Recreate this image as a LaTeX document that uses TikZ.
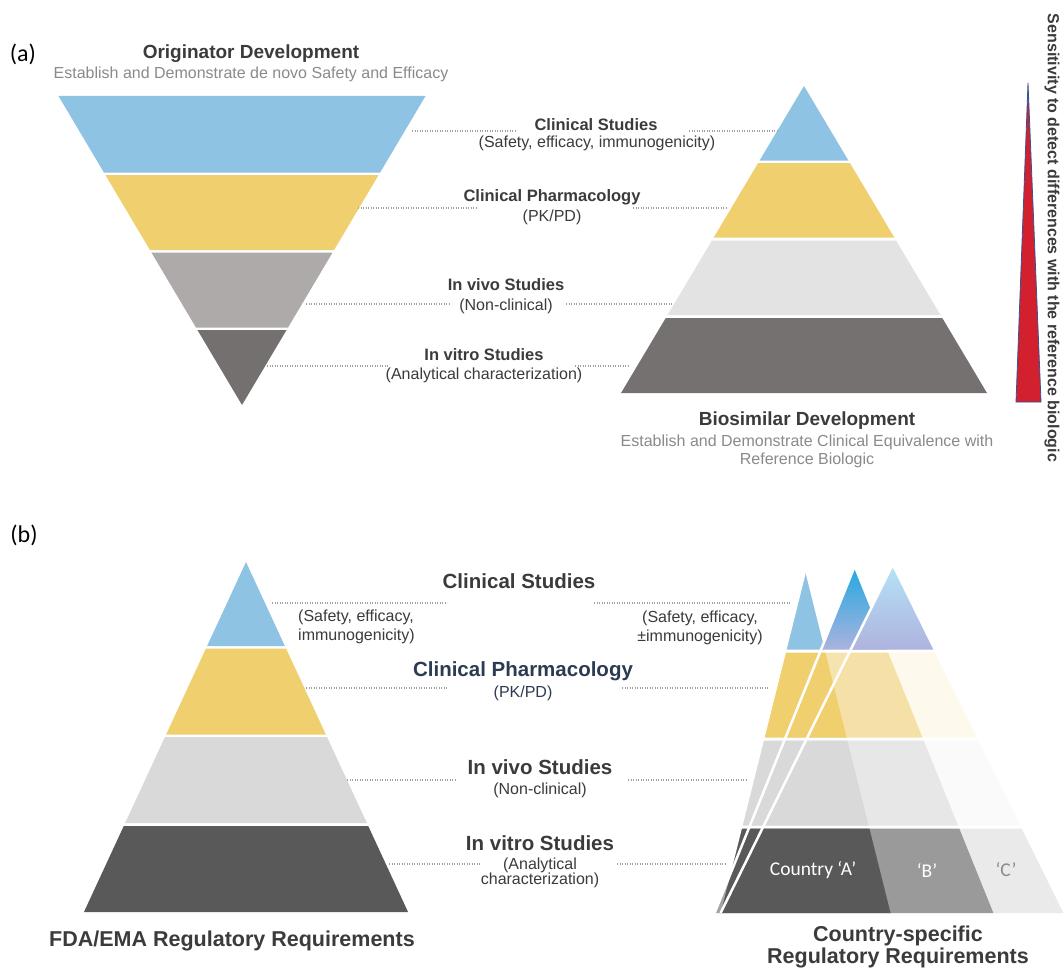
\documentclass[tikz,border=0pt]{standalone}
\usepackage{fontspec}
\setmainfont{Liberation Sans}
\newfontfamily\calibrifont{Carlito}
\usepackage{tikz}

\definecolor{bandblue}{HTML}{8FC3E4}
\definecolor{bandyellow}{HTML}{F0CF6F}
\definecolor{funnelgray}{HTML}{AEAAAA}
\definecolor{funneldark}{HTML}{757070}
\definecolor{biogray}{HTML}{E3E3E3}
\definecolor{biodark}{HTML}{767171}
\definecolor{reggray}{HTML}{D9D9D9}
\definecolor{regdark}{HTML}{595959}
\definecolor{peakBtop}{HTML}{25A8E0}
\definecolor{peakBbot}{HTML}{AAB3DE}
\definecolor{peakCtop}{HTML}{B5E2F7}
\definecolor{peakCbot}{HTML}{AEB3DF}
\definecolor{headtext}{HTML}{3B3B3B}
\definecolor{subtext}{HTML}{8A8A8A}
\definecolor{navytext}{HTML}{2D3B52}
\definecolor{dotgray}{HTML}{A0A0A0}
\definecolor{wedgered}{HTML}{D2202F}
\definecolor{wedgeedge}{HTML}{2F5597}

\tikzset{
    heading/.style={font=\bfseries\fontsize{16.5}{19}\selectfont, text=headtext, inner sep=0pt},
    bigheading/.style={font=\bfseries\fontsize{20.5}{23}\selectfont, text=headtext, inner sep=0pt},
    title/.style={font=\bfseries\fontsize{19}{22}\selectfont, text=headtext, inner sep=0pt},
    bottomtitle/.style={font=\bfseries\fontsize{21.5}{22}\selectfont, text=headtext, inner sep=0pt, align=center},
    subtitle/.style={font=\fontsize{16}{18}\selectfont, text=subtext, inner sep=0pt, align=center},
    detail/.style={font=\fontsize{16}{19}\selectfont, text=headtext, inner sep=0pt, align=center},
    panel/.style={font=\calibrifont\fontsize{24}{28}\selectfont, text=black, inner sep=0pt},
    countrytext/.style={font=\calibrifont\fontsize{19.5}{21}\selectfont, inner sep=0pt},
    dotline/.style={dotgray, line width=1.2pt, dash pattern=on 1.2pt off 1.3pt}
}

\begin{document}
\begin{tikzpicture}[x=1pt,y=-1pt]
    \fill[white] (0,0) rectangle (1064,971);
    \useasboundingbox (0,0) rectangle (1064,971);

    % (a) originator funnel
    \foreach \ya/\yb/\col in {96/172.5/bandblue, 175/250/bandyellow, 252.5/327.5/funnelgray, 330/405/funneldark}
        \fill[\col] ({242-0.594*(405-\ya)},\ya) -- ({242+0.594*(405-\ya)},\ya)
            -- ({242+0.594*(405-\yb)},\yb) -- ({242-0.594*(405-\yb)},\yb) -- cycle;

    % (a) biosimilar pyramid
    \foreach \ya/\yb/\col in {86/160.5/bandblue, 163/237.5/bandyellow, 240.5/315/biogray, 318/393/biodark}
        \fill[\col] ({804-0.596*(\ya-86)},\ya) -- ({804+0.596*(\ya-86)},\ya)
            -- ({804+0.596*(\yb-86)},\yb) -- ({804-0.596*(\yb-86)},\yb) -- cycle;

    % (b) FDA/EMA pyramid
    \foreach \ya/\yb/\col in {562/646/bandblue, 648.5/734.5/bandyellow, 737/823/reggray, 826/912/regdark}
        \fill[\col] ({246-0.463*(\ya-562)},\ya) -- ({246+0.463*(\ya-562)},\ya)
            -- ({246+0.463*(\yb-562)},\yb) -- ({246-0.463*(\yb-562)},\yb) -- cycle;

    % (b) country pyramids A, B, C laid over each other
    \foreach \px/\py/\s/\op/\ctop/\cbot in {805/571/0.25/1/bandblue/bandblue,
                                           854/568/0.404/0.55/peakBtop/peakBbot,
                                           892/566/0.494/0.12/peakCtop/peakCbot} {
        \shade[top color=\ctop, bottom color=\cbot] (\px,\py)
            -- ({\px+\s*(649.5-\py)},649.5) -- ({\px-\s*(649.5-\py)},649.5) -- cycle;
        \foreach \ya/\yb/\col in {652.5/737.5/bandyellow, 740.5/825.5/reggray, 828.5/913/regdark}
            \fill[\col, fill opacity=\op] ({\px-\s*(\ya-\py)},\ya) -- ({\px+\s*(\ya-\py)},\ya)
                -- ({\px+\s*(\yb-\py)},\yb) -- ({\px-\s*(\yb-\py)},\yb) -- cycle;
        \draw[white, line width=2.5pt] (\px,\py) -- ({\px-\s*(913-\py)},913);
    }
    \node[countrytext, text=white] (countryA) at (813,870) {Country ‘A’};
    \node[countrytext, text=white] (countryB) at (927,870) {‘B’};
    \node[countrytext, text=subtext] (countryC) at (1006,870) {‘C’};

    % sensitivity wedge
    \filldraw[fill=wedgered, draw=wedgeedge, line width=0.8pt]
        (1028,83) -- (1041,402) -- (1016,402) -- cycle;
    \node[rotate=-90, font=\bfseries\fontsize{16}{19}\selectfont, text=headtext, inner sep=0pt]
        (sensitivity) at (1052,238) {Sensitivity to detect differences with the reference biologic};

    % dotted leaders
    \foreach \n/\y/\xa/\xb/\xc/\xd in {1/131/412/517/689/778, 2/208/358/478/633/728,
                                      3/304/306/450/566/672, 4/366/267/388/575/629,
                                      5/603/272/447/594/790, 6/688/306/448/622/768,
                                      7/780/347/455/628/747, 8/864/389/481/617/725} {
        \coordinate (lead\n-a) at (\xa,\y);
        \coordinate (lead\n-b) at (\xb,\y);
        \coordinate (lead\n-c) at (\xc,\y);
        \coordinate (lead\n-d) at (\xd,\y);
        \draw[dotline] (lead\n-a) -- (lead\n-b) (lead\n-c) -- (lead\n-d);
    }

    % panel (a) texts
    \node[panel] (panela) at (23,54) {(a)};
    \node[title] (origtitle) at (251,54) {Originator Development};
    \node[subtitle] (origsub) at (251,74) {Establish and Demonstrate de novo Safety and Efficacy};
    \node[title] (biotitle) at (807,421) {Biosimilar Development};
    \node[subtitle] (biosub) at (807,451) {Establish and Demonstrate Clinical Equivalence with\\Reference Biologic};

    \node[heading] (clinA) at (596,125) {Clinical Studies};
    \node[detail] (clinAsub) at (597,143) {(Safety, efficacy, immunogenicity)};
    \node[heading] (pharmA) at (552,197) {Clinical Pharmacology};
    \node[detail] (pharmAsub) at (552,217) {(PK/PD)};
    \node[heading] (vivoA) at (506,285) {In vivo Studies};
    \node[detail] (vivoAsub) at (506,306) {(Non-clinical)};
    \node[heading] (vitroA) at (484,355) {In vitro Studies};
    \node[detail] (vitroAsub) at (484,375) {(Analytical characterization)};

    % panel (b) texts
    \node[panel] (panelb) at (24,535) {(b)};
    \node[bigheading] (clinB) at (519,581) {Clinical Studies};
    \node[detail, align=left, anchor=west] (clinBleft) at (298,627) {(Safety, efficacy,\\immunogenicity)};
    \node[detail] (clinBright) at (700,628) {(Safety, efficacy,\\±immunogenicity)};
    \node[bigheading, text=navytext] (pharmB) at (523,671) {Clinical Pharmacology};
    \node[detail, text=navytext] (pharmBsub) at (523,693) {(PK/PD)};
    \node[bigheading] (vivoB) at (540,767) {In vivo Studies};
    \node[detail] (vivoBsub) at (540,790) {(Non-clinical)};
    \node[bigheading] (vitroB) at (540,843) {In vitro Studies};
    \node[detail, font=\fontsize{16}{15}\selectfont] (vitroBsub) at (540,873) {(Analytical\\characterization)};

    \node[bottomtitle] (fdatitle) at (232,941) {FDA/EMA Regulatory Requirements};
    \node[bottomtitle] (countrytitle) at (898,947) {Country-specific\\Regulatory Requirements};
\end{tikzpicture}
\end{document}
